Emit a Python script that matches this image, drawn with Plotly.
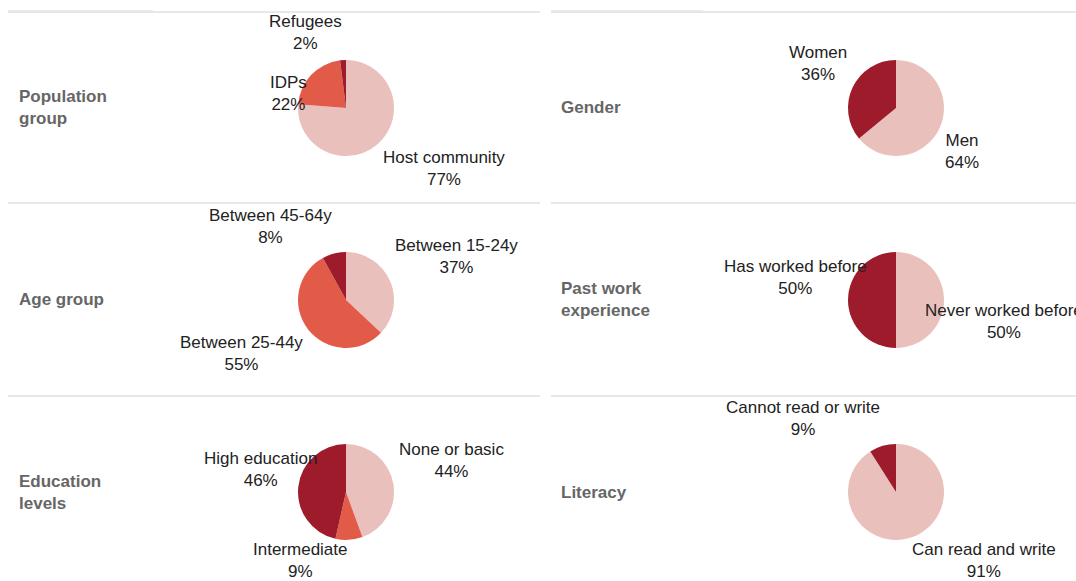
import math
import plotly.graph_objects as go

# ---- data ----
panel_titles = ["Population<br>group", "Gender", "Age group", "Past work<br>experience",
                "Education<br>levels", "Literacy"]

pop_labels = ["Host community", "IDPs", "Refugees"]
pop_values = [77, 22, 2]

gender_labels = ["Men", "Women"]
gender_values = [64, 36]

age_labels = ["Between 15-24y", "Between 25-44y", "Between 45-64y"]
age_values = [37, 55, 8]

work_labels = ["Never worked before", "Has worked before"]
work_values = [50, 50]

edu_labels = ["None or basic", "Intermediate", "High education"]
edu_values = [44, 9, 46]

lit_labels = ["Can read and write", "Cannot read or write"]
lit_values = [91, 9]

LIGHT, MID, DARK = "#E9C0BC", "#E25A48", "#9D1B2B"
FONT = "Liberation Sans, Arial, sans-serif"

W, H = 1076, 581
col_cx = [346, 896]
row_cy = [108, 300, 492]
title_x = [17, 559]
R = 48
R_LABEL = 1.1 * R      # radial distance of label anchor
R_HORIZ = 28           # horizontal labels sit closer in
BLOCK_H = 44

panels = [
    (pop_labels, pop_values, [LIGHT, MID, DARK]),
    (gender_labels, gender_values, [LIGHT, DARK]),
    (age_labels, age_values, [LIGHT, MID, DARK]),
    (work_labels, work_values, [LIGHT, DARK]),
    (edu_labels, edu_values, [LIGHT, MID, DARK]),
    (lit_labels, lit_values, [LIGHT, DARK]),
]

fig = go.Figure()
for i, (labs, vals, cols) in enumerate(panels):
    r, c = divmod(i, 2)
    cx, cy = col_cx[c], row_cy[r]
    fig.add_trace(go.Pie(
        labels=labs, values=vals, sort=False, direction="clockwise", rotation=0,
        marker=dict(colors=cols, line=dict(width=0)),
        textposition="none", hoverinfo="label+value", showlegend=False,
        domain=dict(x=[(cx - R) / W, (cx + R) / W], y=[(H - cy - R) / H, (H - cy + R) / H]),
    ))
    fig.add_annotation(
        text="<b>" + panel_titles[i] + "</b>", xref="paper", yref="paper",
        x=title_x[c] / W, y=(H - cy) / H, xanchor="left", yanchor="middle",
        align="left", showarrow=False,
        font=dict(family=FONT, size=17, color="#666666"),
    )

    # slice labels placed outside the slice, at the slice mid-angle
    total = sum(vals)
    cum = 0
    mids = []
    for v in vals:
        mids.append((cum + v / 2) / total * 2 * math.pi)
        cum += v
    order = sorted(range(len(vals)), key=lambda k: vals[k])
    placed = []
    for k in order:
        a = mids[k]
        sx, sy = math.sin(a), -math.cos(a)
        if abs(sy) < 0.15:
            # horizontal slice: label sits above (left side) or below (right side)
            px = cx + R_HORIZ * sx
            side = "left" if sx > 0 else "right"
            top = cy if sx > 0 else cy - BLOCK_H
        else:
            px, py = cx + R_LABEL * sx, cy + R_LABEL * sy
            side = "left" if sx > 0.1 else "right"
            top = py - BLOCK_H if sy < 0 else py
            for (pside, ptop) in placed:
                if pside == side and abs(ptop - top) < BLOCK_H:
                    top = py if top < py else py - BLOCK_H
        top = max(0, min(top, H - BLOCK_H + 2))
        placed.append((side, top))
        fig.add_annotation(
            text=f"{labs[k]}<br>{vals[k]}%", xref="paper", yref="paper",
            x=px / W, y=(H - top) / H, xanchor=side, yanchor="top",
            align="center", showarrow=False, borderpad=0,
            font=dict(family=FONT, size=17, color="#222222"),
        )

# separator lines
shapes = []
line_ys = [12, 203, 396]
for y in line_ys:
    for x0, x1 in [(8, 540), (551, 1076)]:
        shapes.append(dict(type="line", xref="paper", yref="paper",
                           x0=x0 / W, x1=x1 / W, y0=(H - y) / H, y1=(H - y) / H,
                           line=dict(color="#E0E0E0", width=1.5)))
for x0, x1 in [(8, 153), (551, 703)]:
    shapes.append(dict(type="line", xref="paper", yref="paper",
                       x0=x0 / W, x1=x1 / W, y0=(H - 11.5) / H, y1=(H - 11.5) / H,
                       line=dict(color="#E6E6E6", width=2.5)))

fig.update_layout(shapes=shapes, width=W, height=H,
                  margin=dict(l=0, r=0, t=0, b=0),
                  paper_bgcolor="white", plot_bgcolor="white")

fig.write_html("out.html", config={"displayModeBar": False},
               post_script="document.body.style.margin='0px';")
